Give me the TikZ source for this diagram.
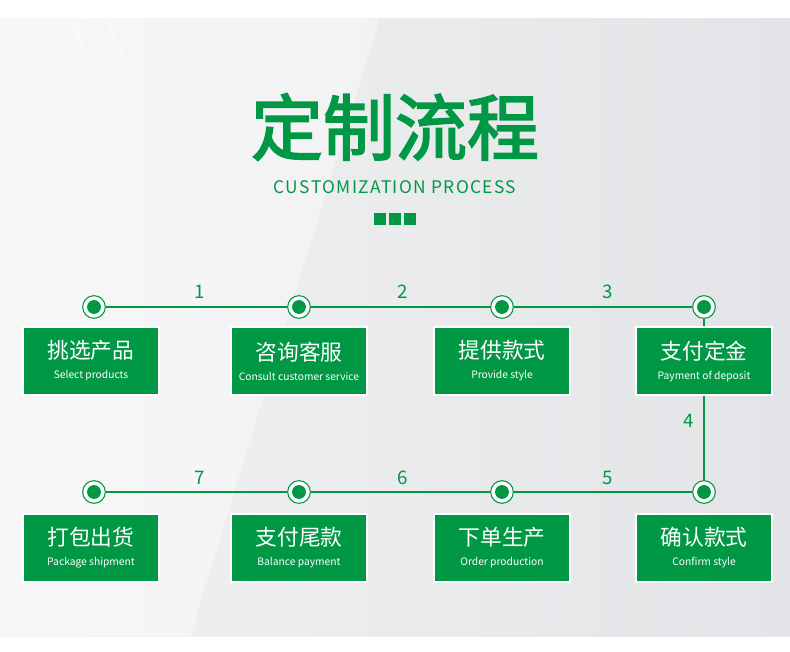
\documentclass[tikz,border=0pt]{standalone}
\usepackage{fontspec}
\setmainfont{Noto Sans CJK SC}
\newfontfamily\titlefont{Noto Sans CJK SC}[FakeBold=2.5]
\newfontfamily\spacedfont{Noto Sans CJK SC}[LetterSpace=8]
\usetikzlibrary{positioning}

\definecolor{flowgreen}{RGB}{0,152,68}
\definecolor{bgleft}{RGB}{246,246,247}
\definecolor{bgright}{RGB}{231,232,235}

\tikzset{
  stepbox/.style={rectangle,fill=flowgreen,draw=white,line width=0.9pt,
    minimum width=102pt,minimum height=51pt,inner sep=0pt,
    text=white,align=center},
  dot/.style={circle,draw=flowgreen,fill=white,line width=0.8pt,
    minimum size=17pt,inner sep=0pt,
    path picture={\fill[flowgreen] (path picture bounding box.center) circle (5.2pt);}},
  link/.style={draw=flowgreen,line width=2.2pt},
  num/.style={text=flowgreen,font=\fontsize{14}{14}\selectfont}
}
\newcommand{\boxtext}[2]{{\fontsize{16.3}{18}\selectfont #1}\\[3pt]{\fontsize{7.7}{9}\selectfont #2}}

\begin{document}
\begin{tikzpicture}[x=0.75pt,y=-0.75pt]
  \useasboundingbox (0,0) rectangle (790,651);

  % fondo
  \shade[left color=bgleft,right color=bgright] (0,18) rectangle (790,636);
  \fill[white,opacity=0.2] (0,18) -- (380,18) -- (190,636) -- (0,636) -- cycle;
  \fill[black,opacity=0.015] (190,636) -- (380,18) -- (790,18) -- (790,636) -- cycle;
  \draw[white,line width=0.8pt,opacity=0.8] (70,18) -- (90,60);
  \draw[white,line width=0.8pt,opacity=0.8] (105,18) -- (125,60);

  % titulo
  \node[text=flowgreen,font=\titlefont\fontsize{54}{60}\selectfont] (title) at (395,127) {定制流程};
  \node[text=flowgreen,font=\spacedfont\fontsize{13}{14}\selectfont] (sub) at (395,187) {CUSTOMIZATION PROCESS};
  \foreach \i/\x in {1/380,2/395,3/410}
    \node[fill=flowgreen,minimum size=9.4pt,inner sep=0pt] (sq\i) at (\x,219) {};

  % circulos
  \node[dot] (c1) at (94,307) {};
  \node[dot] (c2) at (299,307) {};
  \node[dot] (c3) at (502,307) {};
  \node[dot] (c4) at (704,307) {};
  \node[dot] (c5) at (704,492) {};
  \node[dot] (c6) at (502,492) {};
  \node[dot] (c7) at (299,492) {};
  \node[dot] (c8) at (94,492) {};

  % cajas
  \node[stepbox] (b1) at (91,361) {\boxtext{挑选产品}{Select products}};
  \node[stepbox] (b2) at (299,361) {\boxtext{咨询客服}{Consult customer service}};
  \node[stepbox] (b3) at (502,361) {\boxtext{提供款式}{Provide style}};
  \node[stepbox] (b4) at (704,361) {\boxtext{支付定金}{Payment of deposit}};
  \node[stepbox] (b5) at (704,548) {\boxtext{确认款式}{Confirm style}};
  \node[stepbox] (b6) at (502,548) {\boxtext{下单生产}{Order production}};
  \node[stepbox] (b7) at (299,548) {\boxtext{支付尾款}{Balance payment}};
  \node[stepbox] (b8) at (91,548) {\boxtext{打包出货}{Package shipment}};

  % conexiones
  \foreach \from/\to in {c1/c2, c2/c3, c3/c4, c5/c6, c6/c7, c7/c8}
    \draw[link] (\from) -- (\to);
  \draw[link] (c4) -- (b4);
  \draw[link] (b4) -- (c5);

  % numeros
  \node[num] (n1) at (200,292) {1};
  \node[num] (n2) at (403,292) {2};
  \node[num] (n3) at (608,292) {3};
  \node[num] (n4) at (689,421) {4};
  \node[num] (n5) at (608,478) {5};
  \node[num] (n6) at (403,478) {6};
  \node[num] (n7) at (200,478) {7};
\end{tikzpicture}
\end{document}
